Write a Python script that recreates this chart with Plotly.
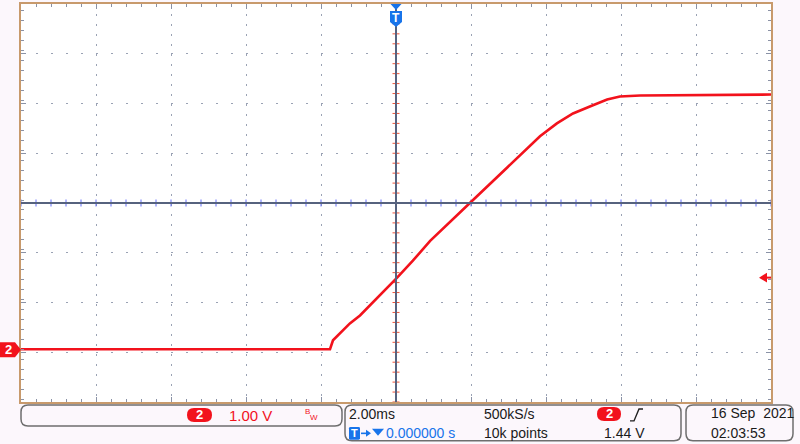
import plotly.graph_objects as go

# ---- data ----
time_ms = [-10.0, -1.76, -1.68, -1.49, -1.23, -0.96, -0.56, 0.03, 0.45, 0.91, 1.97,
           2.77, 3.84, 4.29, 4.72, 5.17, 5.63, 5.97, 6.51, 10.0]
volts = [0.0, 0.0, 0.18, 0.32, 0.52, 0.68, 0.98, 1.44, 1.78, 2.18, 2.94,
         3.52, 4.28, 4.54, 4.74, 4.88, 5.02, 5.08, 5.10, 5.12]

volts_per_div = 1.00
ms_per_div = 2.00
trigger_level = 1.44
center_volts = 2.94          # screen centre in volts
x_range = [-10, 10]
y_range = [center_volts - 4 * volts_per_div, center_volts + 4 * volts_per_div]

ch_scale_text = "1.00 V"
timebase_text = "2.00ms"
trig_pos_text = "0.000000 s"
rate_text = "500kS/s"
points_text = "10k points"
trig_level_text = "1.44 V"
date_text = "16 Sep  2021"
time_text = "02:03:53"

# ---- geometry helpers (pixels -> paper) ----
W, H = 800, 444
L, R, T, B = 21, 771, 2, 402


def px(x):
    return (x - L) / (R - L)


def py(y):
    return (B - y) / (B - T)


def poly(points):
    return "M " + " L ".join(f"{px(a):.5f},{py(b):.5f}" for a, b in points) + " Z"


def rrect(x0, y0, x1, y1, r):
    p = lambda a, b: f"{px(a):.5f},{py(b):.5f}"
    return (f"M {p(x0 + r, y0)} L {p(x1 - r, y0)} Q {p(x1, y0)} {p(x1, y0 + r)} "
            f"L {p(x1, y1 - r)} Q {p(x1, y1)} {p(x1 - r, y1)} "
            f"L {p(x0 + r, y1)} Q {p(x0, y1)} {p(x0, y1 - r)} "
            f"L {p(x0, y0 + r)} Q {p(x0, y0)} {p(x0 + r, y0)} Z")


RED = "#F2121C"
BLUE = "#1874EA"
SLATE = "#56627E"
GRID = "#9AA2B4"
FRAME = "#C89A6C"
FONT = "Liberation Sans"

fig = go.Figure()

# centre-line ticks (decoration)
n_x = int(round((x_range[1] - x_range[0]) / 0.4))
tick_x = [x_range[0] + 0.4 * i for i in range(n_x + 1)]
n_y = int(round((y_range[1] - y_range[0]) / 0.2))
tick_y = [y_range[0] + 0.2 * i for i in range(n_y + 1)]
fig.add_trace(go.Scatter(x=tick_x, y=[center_volts] * len(tick_x), mode="markers",
                         marker=dict(symbol="line-ns-open", size=5, line=dict(width=1, color="#9AA4BC")),
                         hoverinfo="skip", showlegend=False))
fig.add_trace(go.Scatter(x=[0] * len(tick_y), y=tick_y, mode="markers",
                         marker=dict(symbol="line-ew-open", size=5, line=dict(width=1, color="#9AA4BC")),
                         hoverinfo="skip", showlegend=False))

# signal
fig.add_trace(go.Scatter(x=time_ms, y=volts, mode="lines",
                         line=dict(color=RED, width=2.6),
                         hoverinfo="skip", showlegend=False))

shapes = []
# centre crosshair
shapes.append(dict(type="line", xref="x", yref="paper", x0=0, x1=0, y0=0, y1=1,
                   line=dict(color=SLATE, width=2), layer="above"))
shapes.append(dict(type="line", xref="paper", yref="y", x0=0, x1=1, y0=center_volts, y1=center_volts,
                   line=dict(color=SLATE, width=2), layer="above"))

# channel 2 ground marker on left
shapes.append(dict(type="path", xref="paper", yref="paper",
                   path=poly([(0, 342), (15, 342), (21, 349.5), (15, 357), (0, 357)]),
                   fillcolor=RED, line=dict(width=0)))
# trigger position marker at top
shapes.append(dict(type="path", xref="paper", yref="paper",
                   path=poly([(390, 9), (402, 9), (402, 20), (396, 25), (390, 20)]),
                   fillcolor=BLUE, line=dict(width=0)))
shapes.append(dict(type="path", xref="paper", yref="paper",
                   path=poly([(390.5, 2), (401.5, 2), (396, 8)]),
                   fillcolor=BLUE, line=dict(width=0)))
# trigger level arrow on right
yl = 349 - trigger_level * 50
shapes.append(dict(type="path", xref="paper", yref="paper",
                   path=poly([(759, yl), (767, yl - 5), (767, yl + 5)]),
                   fillcolor=RED, line=dict(width=0)))
shapes.append(dict(type="line", xref="paper", yref="paper", x0=px(766), x1=px(771),
                   y0=py(yl), y1=py(yl), line=dict(color=RED, width=2)))

# info boxes
for (x0, y0, x1, y1) in [(21, 405, 342, 426), (345, 405, 681, 441), (686, 405, 793, 441)]:
    shapes.append(dict(type="path", xref="paper", yref="paper", path=rrect(x0, y0, x1, y1, 7),
                       fillcolor="rgba(0,0,0,0)", line=dict(color="#6E6E6E", width=1.5)))
# red "2" badges
for (x0, y0, x1, y1) in [(187, 408, 212, 422), (597, 407, 621, 421)]:
    shapes.append(dict(type="path", xref="paper", yref="paper", path=rrect(x0, y0, x1, y1, 7),
                       fillcolor=RED, line=dict(width=0)))
# blue T box in info bar
shapes.append(dict(type="path", xref="paper", yref="paper", path=rrect(349, 427, 360, 440, 1.5),
                   fillcolor=BLUE, line=dict(width=0)))
# arrow and down-triangle after T box
shapes.append(dict(type="line", xref="paper", yref="paper", x0=px(361), x1=px(369),
                   y0=py(433.5), y1=py(433.5), line=dict(color=BLUE, width=1.6)))
shapes.append(dict(type="path", xref="paper", yref="paper",
                   path=poly([(366, 430), (371, 433.5), (366, 437)]),
                   fillcolor=BLUE, line=dict(width=0)))
shapes.append(dict(type="path", xref="paper", yref="paper",
                   path=poly([(372, 429), (384, 429), (378, 436)]),
                   fillcolor=BLUE, line=dict(width=0)))
# rising edge symbol
shapes.append(dict(type="path", xref="paper", yref="paper",
                   path="M " + " L ".join(f"{px(a):.5f},{py(b):.5f}" for a, b in
                                          [(630, 421), (634, 421), (639, 409), (643, 409)]),
                   line=dict(color="#202020", width=1.4)))

ann = []


def text(x, y, s, color="#1A1A1A", size=14, anchor="left", bold=False):
    ann.append(dict(xref="paper", yref="paper", x=px(x), y=py(y), text=(f"<b>{s}</b>" if bold else s),
                    showarrow=False, xanchor=anchor, yanchor="middle",
                    font=dict(family=FONT, size=size, color=color), borderpad=0))


text(8, 349.5, "2", color="white", size=13, anchor="center", bold=True)
text(396, 16, "T", color="white", size=12, anchor="center", bold=True)
text(199.5, 415, "2", color="white", size=13, anchor="center", bold=True)
text(609, 414, "2", color="white", size=13, anchor="center", bold=True)
text(354.5, 433.5, "T", color="white", size=11, anchor="center", bold=True)
text(228, 415.5, ch_scale_text, color=RED, size=15)
text(304, 412, "B", color=RED, size=8)
text(309, 418, "W", color=RED, size=8)
text(348, 414.5, timebase_text, size=14)
text(385, 433.5, trig_pos_text, color=BLUE, size=14)
text(483, 414.5, rate_text, size=14)
text(483, 433.5, points_text, size=14)
text(603, 433.5, trig_level_text, size=14)
text(710, 413.5, date_text, size=14)
text(710, 433.5, time_text, size=14)

axis_common = dict(showticklabels=False, showline=True, linecolor=FRAME, linewidth=2,
                   mirror="ticks", ticks="inside", ticklen=5, tickcolor="#8A92A6", tickwidth=1,
                   zeroline=False, showgrid=True, gridcolor=GRID, gridwidth=1, fixedrange=True)

fig.update_xaxes(range=x_range, tick0=0, dtick=ms_per_div, griddash="2px,8px",
                 minor=dict(dtick=ms_per_div / 5, ticks="inside", ticklen=3, tickcolor="#8A92A6",
                            showgrid=False),
                 **axis_common)
fig.update_yaxes(range=y_range, tick0=center_volts, dtick=volts_per_div, griddash="2px,13px",
                 minor=dict(dtick=volts_per_div / 5, ticks="inside", ticklen=3, tickcolor="#8A92A6",
                            showgrid=False),
                 **axis_common)

fig.update_layout(width=W, height=H, margin=dict(l=L, r=W - R, t=T, b=H - B),
                  paper_bgcolor="#FCF7FC", plot_bgcolor="white",
                  shapes=shapes, annotations=ann, showlegend=False)

fig.write_html("out.html", config={"displayModeBar": False},
               post_script="document.body.style.margin='0px';document.body.style.overflow='hidden';")
